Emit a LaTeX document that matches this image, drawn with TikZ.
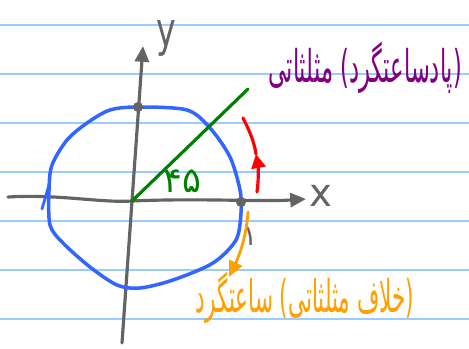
\documentclass[tikz,border=0pt]{standalone}
\usepackage{fontspec}
\usepackage{tikz}
\usetikzlibrary{arrows.meta}
\newfontfamily\arabicfont[Script=Arabic]{DejaVu Sans}
\TeXXeTstate=1
\definecolor{paperline}{RGB}{153,204,255}
\definecolor{pengray}{RGB}{100,100,100}
\definecolor{penblue}{RGB}{51,102,255}
\definecolor{pengreen}{RGB}{0,128,0}
\definecolor{penred}{RGB}{255,0,0}
\definecolor{penpurple}{RGB}{128,0,128}
\definecolor{penorange}{RGB}{255,160,0}
\tikzset{
  pen/.style={line width=1.8pt,line cap=round,line join=round},
  bighead/.style={-{Triangle[length=9pt,width=8pt]}},
  note/.style={font=\arabicfont\fontsize{19}{22}\selectfont,inner sep=0pt}
}
\newcommand{\narrow}[3]{\scalebox{#1}[#2]{#3}}

\begin{document}
\begin{tikzpicture}[x=0.02cm,y=-0.02cm]
\useasboundingbox[fill=white] (0,0) rectangle (469,348);
% ruled paper
\foreach \h in {25,74,123,172,221,270,319}
  \draw[paperline,line width=1.1pt] (0,\h)--(469,\h);
% axes
\coordinate (O) at (132,201);
\coordinate (xstart) at (8,197);
\coordinate (xend) at (306,199);
\coordinate (ystart) at (122,343);
\coordinate (yend) at (143,46);
\draw[pen,pengray,bighead] (xstart) .. controls (60,194) and (100,203) .. (O)
  .. controls (200,198) and (260,202) .. (xend);
\draw[pen,pengray,bighead] (ystart) -- (O) -- (yend);
\node[pengray,note,font=\arabicfont\fontsize{22}{22}\selectfont] (xlab) at (321,196) {x};
\node[pengray,note,font=\arabicfont\fontsize{27}{27}\selectfont] (ylab) at (166,38) {\narrow{0.7}{1}{y}};
% unit circle, drawn by hand
\draw[penblue,pen,line width=2pt] plot[smooth cycle] coordinates {(138,107) (187,110)
  (210,128) (230,157) (240,190) (241,213) (236,240) (213,263) (173,280) (140,288)
  (117,285) (90,267) (63,243) (50,225) (49,190) (52,165) (67,140) (87,123) (110,110)};
\draw[penblue,pen,line width=1.6pt] (49,185) -- (42,209);
\coordinate (top) at (138,107);
\coordinate (P) at (241,202);
\fill[pengray] (top) circle (5);
\fill[pengray] (P) circle (5);
\node[pengray,note,font=\arabicfont\fontsize{16}{16}\selectfont] (one) at (250,237) {۱};
% angle
\coordinate (ray) at (248,89);
\draw[pen,pengreen] (O) -- (ray);
\node[pengreen,note,font=\arabicfont\fontsize{20}{20}\selectfont] (ang) at (182,181) {۴۵};
% directions
\coordinate (r1) at (257,192);
\coordinate (r2) at (256,154);
\coordinate (r3) at (243,118);
\draw[pen,penred,-{Triangle[length=8pt,width=8pt]}] (r1) .. controls (259,178) and (258,165) .. (r2);
\draw[pen,penred] (r2) .. controls (254,140) and (248,128) .. (r3);
\node[penpurple,note] (ccw) at (365,68) {\narrow{0.675}{1.35}{\beginR(پادساعتگرد) مثلثاتی\endR}};
\node[penorange,note] (cw) at (305,298) {\narrow{0.645}{1.35}{\beginR(خلاف مثلثاتی) ساعتگرد\endR}};
\coordinate (cwtip) at (229,277);
\draw[pen,penorange,line width=1.6pt,bighead] (248,212) .. controls (246,240) and (238,258) .. (cwtip);
\end{tikzpicture}
\end{document}
